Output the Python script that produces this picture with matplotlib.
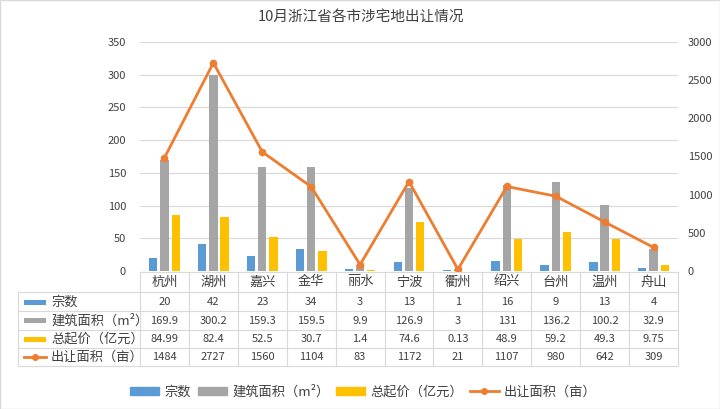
import matplotlib
matplotlib.use("Agg")
import matplotlib.pyplot as plt
import matplotlib.transforms as mtransforms
from matplotlib.lines import Line2D
from matplotlib.patches import Rectangle
import numpy as np

plt.rcParams["font.family"] = ["Noto Sans CJK SC", "DejaVu Sans"]

cities = ["杭州", "湖州", "嘉兴", "金华", "丽水", "宁波", "衢州", "绍兴", "台州", "温州", "舟山"]
count = [20, 42, 23, 34, 3, 13, 1, 16, 9, 13, 4]
floor_area = [169.9, 300.2, 159.3, 159.5, 9.9, 126.9, 3, 131, 136.2, 100.2, 32.9]
start_price = [84.99, 82.4, 52.5, 30.7, 1.4, 74.6, 0.13, 48.9, 59.2, 49.3, 9.75]
land_area = [1484, 2727, 1560, 1104, 83, 1172, 21, 1107, 980, 642, 309]

count_txt = ["20", "42", "23", "34", "3", "13", "1", "16", "9", "13", "4"]
floor_txt = ["169.9", "300.2", "159.3", "159.5", "9.9", "126.9", "3", "131", "136.2", "100.2", "32.9"]
price_txt = ["84.99", "82.4", "52.5", "30.7", "1.4", "74.6", "0.13", "48.9", "59.2", "49.3", "9.75"]
land_txt = ["1484", "2727", "1560", "1104", "83", "1172", "21", "1107", "980", "642", "309"]

names = ["宗数", "建筑面积（m²）", "总起价（亿元）", "出让面积（亩）"]

BLUE = "#5B9BD5"
GRAY = "#A5A5A5"
YELLOW = "#FFC000"
ORANGE = "#ED7D31"
GRID = "#D9D9D9"
TXT = "#404040"

W, H = 720, 409
fig = plt.figure(figsize=(W / 100, H / 100), dpi=100)
fig.patch.set_facecolor("white")

# plot area in pixels
x0, x1, ytop, ybot = 140, 678, 42, 271
ax = fig.add_axes([x0 / W, 1 - ybot / H, (x1 - x0) / W, (ybot - ytop) / H])
ax2 = ax.twinx()

x = np.arange(len(cities))
bw = 0.17
ax.bar(x - 0.23, count, bw, color=BLUE, zorder=2)
ax.bar(x, floor_area, bw, color=GRAY, zorder=2)
ax.bar(x + 0.23, start_price, bw, color=YELLOW, zorder=2)
ax2.plot(x, land_area, color=ORANGE, lw=2, marker="o", ms=4.5, zorder=3)

ax.set_xlim(-0.5, len(cities) - 0.5)
ax.set_ylim(0, 350)
ax.set_yticks(range(0, 351, 50))
ax2.set_ylim(0, 3000)
ax2.set_yticks(range(0, 3001, 500))
ax.set_xticks([])
ax.grid(axis="y", color=GRID, lw=0.8, zorder=0)
ax.set_axisbelow(True)
for a in (ax, ax2):
    for s in a.spines.values():
        s.set_visible(False)
    a.tick_params(length=0, labelsize=8, labelcolor=TXT)
ax.tick_params(axis="y", pad=10)
ax2.tick_params(axis="y", pad=7)

# data table below the plot
trans = mtransforms.blended_transform_factory(ax.transData, fig.transFigure)
def fy(py):
    return 1 - py / H
row_lines = [272, 292, 311, 330, 348, 366]
left_px = 18
for i, py in enumerate(row_lines):
    xs = x0 if i == 0 else left_px
    fig.add_artist(Line2D([xs / W, x1 / W], [fy(py), fy(py)], color=GRID, lw=0.8))
for k in range(len(cities) + 1):
    fig.add_artist(Line2D([k - 0.5, k - 0.5], [fy(272), fy(366)], color=GRID, lw=0.8,
                          transform=trans))
fig.add_artist(Line2D([left_px / W] * 2, [fy(292), fy(366)], color=GRID, lw=0.8))

for k, c in enumerate(cities):
    fig.text(k, fy(282), c, transform=trans, ha="center", va="center", fontsize=9.5, color=TXT)

rows = [count_txt, floor_txt, price_txt, land_txt]
centers = [302, 320.5, 339, 357]
for vals, cy in zip(rows, centers):
    for k, v in enumerate(vals):
        fig.text(k, fy(cy), v, transform=trans, ha="center", va="center", fontsize=8, color=TXT)

# row headers with legend keys
key_colors = [BLUE, GRAY, YELLOW]
for j, (nm, cy) in enumerate(zip(names, centers)):
    if j < 3:
        fig.add_artist(Rectangle((24 / W, fy(cy + 2.5)), 22 / W, 5 / H,
                                 facecolor=key_colors[j], edgecolor="none"))
    else:
        fig.add_artist(Line2D([24 / W, 46 / W], [fy(cy)] * 2, color=ORANGE, lw=2))
        fig.add_artist(Line2D([35 / W], [fy(cy)], color=ORANGE, marker="o", ms=4))
    fig.text(51 / W, fy(cy), nm, ha="left", va="center", fontsize=9.5, color=TXT)

# bottom legend
handles = [Rectangle((0, 0), 1, 1, color=BLUE), Rectangle((0, 0), 1, 1, color=GRAY),
           Rectangle((0, 0), 1, 1, color=YELLOW),
           Line2D([], [], color=ORANGE, lw=2, marker="o", ms=4)]
fig.legend(handles, names, loc="center", bbox_to_anchor=(0.505, fy(392)), ncol=4,
           frameon=False, fontsize=9.5, handlelength=2.2, handleheight=0.5,
           columnspacing=0.5, handletextpad=0.4, labelcolor=TXT)

fig.text(361 / W, fy(17), "10月浙江省各市涉宅地出让情况", ha="center", va="center",
         fontsize=10.5, color=TXT)

fig.add_artist(Rectangle((0, 0), 1, 1, transform=fig.transFigure, fill=False,
                         edgecolor=GRID, lw=1))

fig.savefig("out.png", dpi=100)
